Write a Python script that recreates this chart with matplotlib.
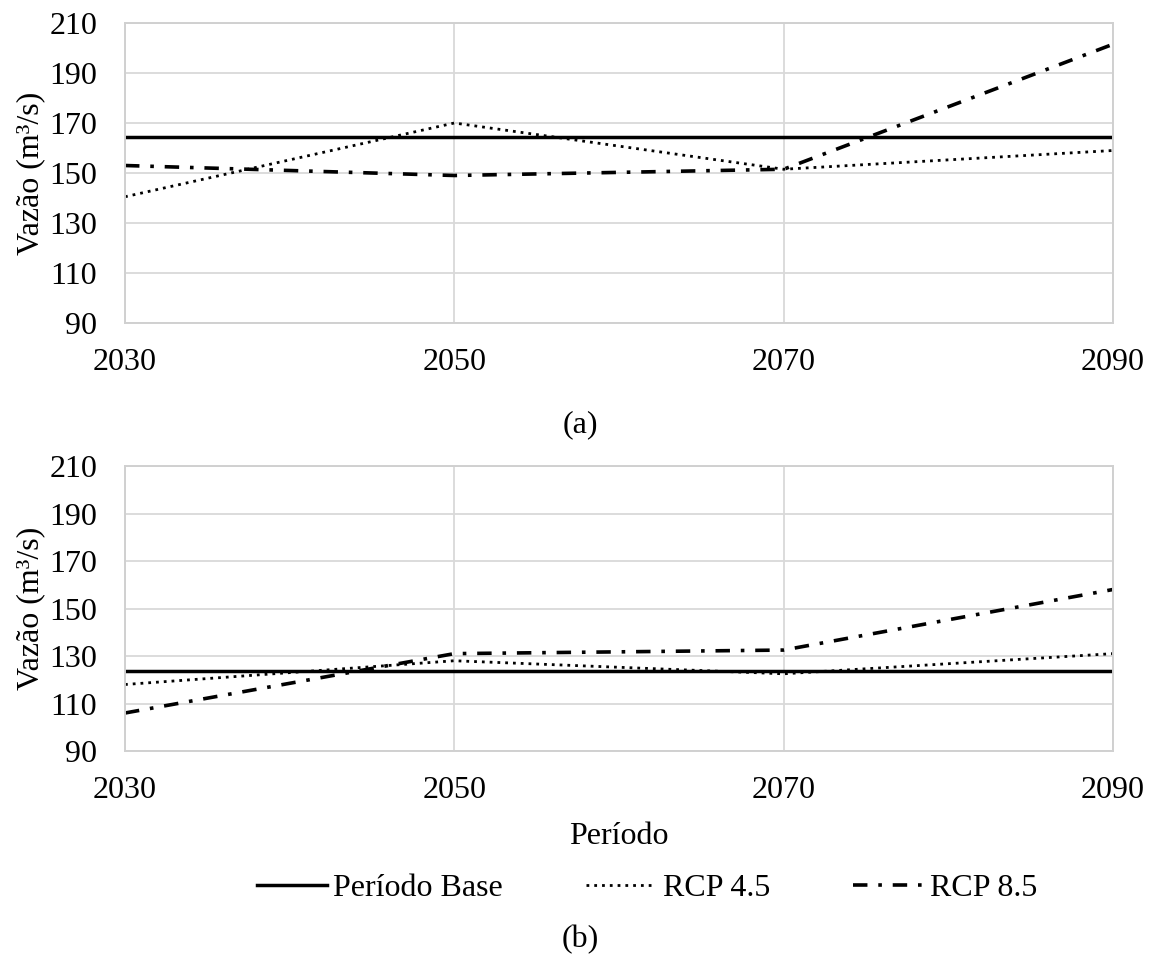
import matplotlib.pyplot as plt

plt.rcParams['font.family'] = ['Liberation Serif', 'DejaVu Serif']
plt.rcParams['font.size'] = 23

years = [2030, 2050, 2070, 2090]

# (a)
base_a = [164.5, 164.5, 164.5, 164.5]
rcp45_a = [140.5, 170.0, 151.5, 159.0]
rcp85_a = [153.0, 149.0, 151.5, 201.5]

# (b)
base_b = [123.5, 123.5, 123.5, 123.5]
rcp45_b = [118.0, 128.0, 122.5, 131.0]
rcp85_b = [106.0, 131.0, 132.5, 158.0]

W, H = 1161, 963
fig = plt.figure(figsize=(W / 100, H / 100), dpi=100)
ax1 = fig.add_axes([125/W, 1 - 323/H, 988/W, 300/H])
ax2 = fig.add_axes([125/W, 1 - 751/H, 988/W, 285/H])

dashdot = (0, (4, 3, 1, 3))
dotted = (0, (1, 1.8))

for ax, base, r45, r85 in [(ax1, base_a, rcp45_a, rcp85_a), (ax2, base_b, rcp45_b, rcp85_b)]:
    ax.plot(years, base, color='black', lw=2.5, ls='-', label='Período Base')
    ax.plot(years, r45, color='black', lw=2.0, ls=dotted, label='RCP 4.5')
    ax.plot(years, r85, color='black', lw=2.6, ls=dashdot, label='RCP 8.5')
    ax.set_xlim(2030, 2090)
    ax.set_ylim(90, 210)
    ax.set_xticks(years)
    ax.set_yticks(range(90, 211, 20))
    ax.grid(True, color='#d9d9d9', lw=1.3)
    ax.set_axisbelow(True)
    for s in ax.spines.values():
        s.set_color('#d0d0d0')
        s.set_linewidth(1.4)
    ax.tick_params(axis='y', length=0, pad=20)
    ax.tick_params(axis='x', length=0, pad=18)
    ax.set_ylabel('Vazão (m³/s)')
    ax.yaxis.set_label_coords(-80/988, 0.5)

ax2.set_xlabel('Período', labelpad=12)

fig.text(0.5, 1 - 425/H, '(a)', ha='center', va='center')
fig.text(0.5, 1 - 940/H, '(b)', ha='center', va='center')

h, l = ax2.get_legend_handles_labels()
fig.legend(h, l, loc='center', bbox_to_anchor=(647/W, 1 - 888/H), ncol=3,
           frameon=False, handlelength=2.2, handletextpad=0.2, columnspacing=2.6)

fig.savefig('out.png', dpi=100)
